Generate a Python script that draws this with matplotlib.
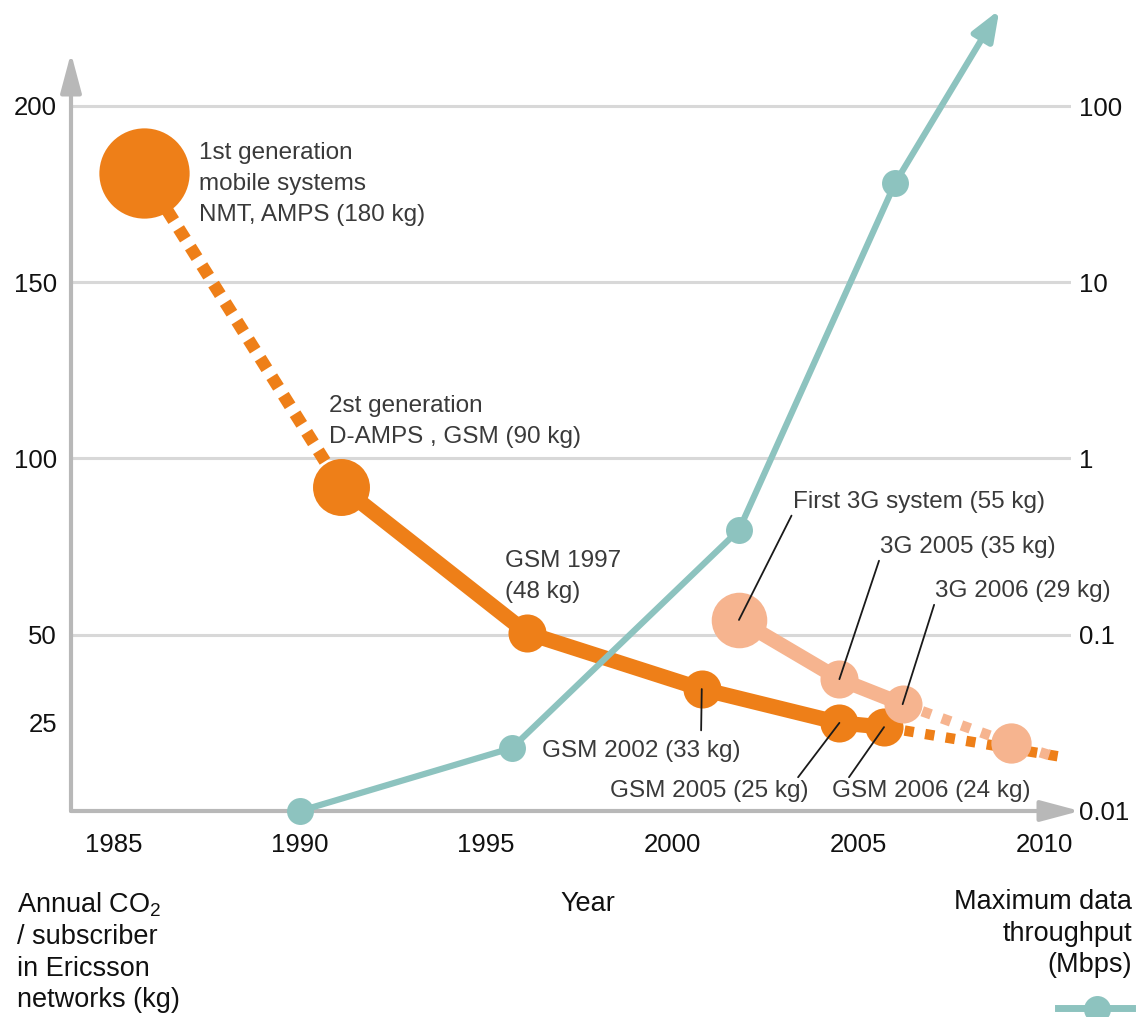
import matplotlib
matplotlib.use('Agg')
import matplotlib.pyplot as plt
from matplotlib.lines import Line2D
from matplotlib.ticker import NullLocator

plt.rcParams['font.family'] = ['Liberation Sans', 'DejaVu Sans']
plt.rcParams['mathtext.fontset'] = 'custom'
plt.rcParams['mathtext.rm'] = 'Liberation Sans'

# CO2 per subscriber (kg)
gen_years = [1985.8, 1991.1]
gen_kg = [181, 92]
gsm_years = [1991.1, 1996.1, 2000.8, 2004.5, 2005.7]
gsm_kg = [92, 50.5, 34.6, 25.0, 23.8]
gsm_trend_years = [2005.7, 2010.5]
gsm_trend_kg = [23.8, 15.3]
g3_years = [2001.8, 2004.5, 2006.2]
g3_kg = [54.2, 37.4, 30.3]
g3_trend_years = [2006.2, 2009.1, 2010.4]
g3_trend_kg = [30.3, 19.3, 15.0]

# max data throughput (Mbps)
tp_years = [1990, 1995.7, 2001.8, 2006.0]
tp_mbps = [0.01, 0.0228, 0.393, 36.6]
tp_arrow_year = 2008.8
tp_arrow_mbps = 351

left_ticks = [25, 50, 100, 150, 200]
grid_vals = [50, 100, 150, 200]
right_ticks = [0.01, 0.1, 1, 10, 100]
right_labels = ['0.01', '0.1', '1', '10', '100']
year_ticks = [1985, 1990, 1995, 2000, 2005, 2010]

orange = '#EE7F18'
light = '#F6B48F'
teal = '#8DC3BF'
axgray = '#B8B8B8'
gridc = '#D8D8D8'
txt = '#3A3A3A'

W, H = 1139, 1017
fig = plt.figure(figsize=(W / 100, H / 100), dpi=100)
ax = fig.add_axes([71 / W, (H - 811) / H, 1000 / W, 811 / H])
ax.set_xlim(1983.844, 2010.726)
ax.set_ylim(0, 230.07)
for s in ax.spines.values():
    s.set_visible(False)

for g in grid_vals:
    ax.axhline(g, color=gridc, lw=2.2, zorder=0)

# axes arrows
ax.annotate('', xy=(0, (811 - 53) / 811), xytext=(0, 0), xycoords='axes fraction',
            arrowprops=dict(arrowstyle='-|>,head_length=1.2,head_width=0.32', color=axgray,
                            lw=3, mutation_scale=20, shrinkA=0, shrinkB=0), annotation_clip=False)
ax.annotate('', xy=(1.009, 0), xytext=(0, 0), xycoords='axes fraction',
            arrowprops=dict(arrowstyle='-|>,head_length=1.2,head_width=0.32', color=axgray,
                            lw=3, mutation_scale=20, shrinkA=0, shrinkB=0), annotation_clip=False)

# 1st -> 2nd generation (dashed)
ax.plot(gen_years, gen_kg, color=orange, lw=9, ls=(0, (1.0, 0.75)),
        dash_capstyle='butt', zorder=2)
# GSM line
ax.plot(gsm_years, gsm_kg, color=orange, lw=11, solid_capstyle='round', zorder=2)
ax.plot(gsm_trend_years, gsm_trend_kg, color=orange, lw=7.5, ls=(0, (0.9, 1.1)),
        dash_capstyle='butt', zorder=2)
ax.plot(gen_years[:1], gen_kg[:1], 'o', color=orange, ms=65, mew=0, zorder=3)
ax.plot(gsm_years[:1], gsm_kg[:1], 'o', color=orange, ms=41, mew=0, zorder=3)
ax.plot(gsm_years[1:], gsm_kg[1:], 'o', color=orange, ms=27.4, mew=0, zorder=3)

# 3G line
ax.plot(g3_trend_years, g3_trend_kg, color=light, lw=7.5, ls=(0, (0.9, 1.1)),
        dash_capstyle='butt', zorder=4)
ax.plot(g3_years, g3_kg, color=light, lw=10.5, zorder=4)
ax.plot(g3_years[:1], g3_kg[:1], 'o', color=light, ms=40, mew=0, zorder=4)
ax.plot(g3_years[1:], g3_kg[1:], 'o', color=light, ms=27.4, mew=0, zorder=4)
ax.plot(g3_trend_years[1:2], g3_trend_kg[1:2], 'o', color=light, ms=29, mew=0, zorder=4)

# labels (va='baseline' puts the last line on y)
fs = 17.5
ax.text(1987.28, 167.4, '1st generation\nmobile systems\nNMT, AMPS (180 kg)', fontsize=fs,
        color=txt, va='baseline', linespacing=1.52)
ax.text(1990.78, 104.4, '2st generation\nD-AMPS , GSM (90 kg)', fontsize=fs,
        color=txt, va='baseline', linespacing=1.52)
ax.text(1995.51, 60.4, 'GSM 1997\n(48 kg)', fontsize=fs, color=txt, va='baseline',
        linespacing=1.52)

lead = dict(arrowstyle='-', color='#1a1a1a', lw=1.3, shrinkA=0, shrinkB=0)


def leader(label, i_x, i_y, tx, ty, rel, ha='left', sa=0):
    p = dict(lead, relpos=rel, shrinkA=sa)
    ax.annotate(label, xy=(i_x, i_y), xytext=(tx, ty), fontsize=fs, color=txt,
                ha=ha, va='baseline', arrowprops=p, zorder=6)


leader('GSM 2002 (33 kg)', gsm_years[2], gsm_kg[2], 1996.51, 15.3, (0.80, 1), sa=5)
leader('GSM 2005 (25 kg)', gsm_years[3], gsm_kg[3], 2003.68, 3.97, (0.935, 1), ha='right')
leader('GSM 2006 (24 kg)', gsm_years[4], gsm_kg[4], 2004.30, 3.97, (0.076, 1))
leader('First 3G system (55 kg)', g3_years[0], g3_kg[0], 2003.25, 86.0, (0, 0))
leader('3G 2005 (35 kg)', g3_years[1], g3_kg[1], 2005.59, 73.2, (0, 0))
leader('3G 2006 (29 kg)', g3_years[2], g3_kg[2], 2007.07, 60.7, (0, 0))

ax.set_yticks(left_ticks)
ax.set_xticks(year_ticks)
ax.tick_params(axis='y', length=0, pad=10, labelsize=18.5, labelcolor='#111111')
ax.tick_params(axis='x', length=0, pad=16, labelsize=18.5, labelcolor='#111111')

# throughput on log axis
ax2 = ax.twinx()
ax2.set_yscale('log')
ax2.set_ylim(0.01, 399.5)
for s in ax2.spines.values():
    s.set_visible(False)
ax2.plot(tp_years, tp_mbps, color=teal, lw=4.5, zorder=5)
ax2.annotate('', xy=(tp_arrow_year, tp_arrow_mbps), xytext=(tp_years[-1], tp_mbps[-1]),
             arrowprops=dict(arrowstyle='-|>,head_length=0.9,head_width=0.35', color=teal,
                             lw=4.5, mutation_scale=20, shrinkA=0, shrinkB=0),
             annotation_clip=False)
ax2.plot(tp_years, tp_mbps, 'o', color=teal, ms=19.4, mew=0, zorder=6, clip_on=False)
ax2.set_yticks(right_ticks)
ax2.set_yticklabels(right_labels)
ax2.yaxis.set_minor_locator(NullLocator())
ax2.tick_params(axis='y', which='both', length=0, pad=6, labelsize=18.5, labelcolor='#111111')

# bottom captions
fig.text(17 / W, 1 - 1007 / H, 'Annual CO$_2$\n/ subscriber\nin Ericsson\nnetworks (kg)',
         fontsize=19.5, color='#111111', va='baseline', linespacing=1.27)
fig.text(588 / W, 1 - 911 / H, 'Year', fontsize=19.5, color='#111111', ha='center',
         va='baseline')
fig.text(1132 / W, 1 - 972 / H, 'Maximum data\nthroughput\n(Mbps)', fontsize=19.5,
         color='#111111', ha='right', va='baseline', multialignment='right', linespacing=1.27)
fig.add_artist(Line2D([1058 / W, 1132 / W], [1 - 1008 / H] * 2, color=teal, lw=5))
fig.add_artist(Line2D([1097 / W], [1 - 1009 / H], marker='o', color=teal, ms=19.4, mew=0))

fig.savefig('out.png', dpi=100)
